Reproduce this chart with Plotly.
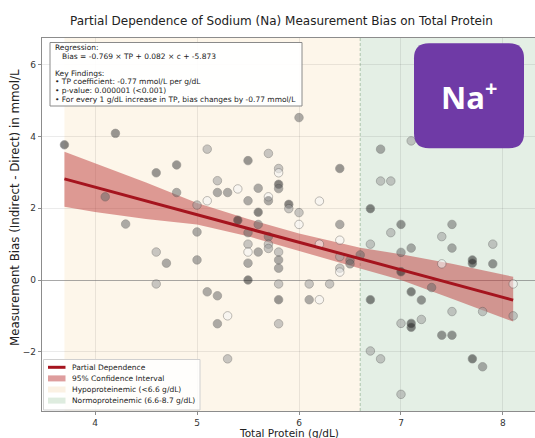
import plotly.graph_objects as go

# ---------------- data ----------------
tp_values = [3.7, 4.2, 4.1, 4.3, 4.6, 4.8, 4.8, 4.6, 4.7, 4.6,
             5.0, 5.0, 5.0, 5.1, 5.1, 5.1, 5.2, 5.2, 5.2, 5.2,
             5.3, 5.3, 5.3, 5.4, 5.4, 5.5, 5.5, 5.5, 5.5, 5.5,
             5.5, 5.5, 5.6, 5.6, 5.6, 5.6, 5.7, 5.7, 5.7, 5.7,
             5.7, 5.7, 5.8, 5.8, 5.8, 5.8, 5.8, 5.8, 5.8, 5.8,
             5.8, 5.8, 5.9, 5.9, 6.0, 6.0, 6.0, 6.1, 6.1, 6.2,
             6.2, 6.2, 6.3, 6.4, 6.4, 6.4, 6.4, 6.4, 6.4, 6.5,
             6.5, 6.6, 6.7, 6.7, 6.7, 6.7, 6.8, 6.8, 6.8, 6.9,
             6.9, 7.0, 7.0, 7.0, 7.0, 7.0, 7.1, 7.1, 7.1, 7.1,
             7.1, 7.2, 7.2, 7.3, 7.4, 7.4, 7.4, 7.5, 7.5, 7.5,
             7.5, 7.7, 7.7, 7.7, 7.8, 7.8, 7.9, 7.9, 8.1, 8.1]
bias_values = [3.77, 4.09, 2.32, 1.56, 2.99, 3.21, 2.44, 0.78, 0.47, -0.11,
               2.09, 1.34, 0.56, 3.65, 2.21, -0.33, 2.77, 2.44, -0.44, -1.22,
               2.44, -1.00, -2.20, 2.54, 1.67, 3.33, 2.21, 1.32, 1.00, 0.78,
               0.47, 0.00, 2.56, 1.89, 1.55, 0.78, 3.53, 2.32, 2.21, 1.21,
               1.00, 0.88, 3.11, 2.99, 2.67, 2.55, 0.78, 0.56, 0.33, -0.11,
               -0.55, -1.22, 2.11, 1.99, 4.53, 1.88, 1.55, -0.11, -0.55, 2.20,
               1.00, -0.55, -0.11, 3.11, 1.55, 1.11, 0.65, 0.33, 0.22, 0.55,
               0.45, 0.70, 1.99, 1.00, -0.55, -1.98, 3.65, 2.76, -2.20, 2.76,
               1.32, 1.55, 0.77, 0.23, -1.21, -3.19, 3.88, 0.89, -0.33, -1.21,
               -1.32, -0.56, -1.10, -0.21, 1.21, 0.45, -1.54, 1.55, 0.89, -0.88,
               -1.54, 0.56, 0.47, -2.20, -0.88, -2.42, 1.00, 0.45, -0.11, -1.00]
# grey level of each point (0 = white, 1 = black)
shade_values = [0.85, 0.72, 0.58, 0.58, 0.72, 0.72, 0.58, 0.38, 0.58, 0.38,
                0.38, 0.58, 0.58, 0.38, 0.04, 0.58, 0.38, 0.58, 0.58, 0.58,
                0.58, 0.04, 0.38, 0.04, 0.85, 0.72, 0.58, 0.58, 0.38, 0.04,
                0.58, 0.85, 0.58, 0.85, 0.58, 0.58, 0.38, 0.04, 0.58, 0.58,
                0.38, 0.38, 0.38, 0.04, 0.85, 0.58, 0.38, 0.58, 0.58, 0.38,
                0.72, 0.38, 0.85, 0.38, 0.58, 0.38, 0.04, 0.38, 0.58, 0.04,
                0.04, 0.04, 0.38, 0.72, 0.58, 0.04, 0.38, 0.38, 0.04, 0.58,
                0.58, 0.58, 0.85, 0.38, 0.85, 0.38, 0.58, 0.38, 0.38, 0.38,
                0.38, 0.72, 0.58, 0.85, 0.38, 0.38, 0.38, 0.58, 0.85, 0.85,
                0.85, 0.72, 0.38, 0.58, 0.38, 0.04, 0.72, 0.58, 0.58, 0.38,
                0.72, 0.85, 0.85, 0.85, 0.38, 0.58, 0.38, 0.72, 0.04, 0.38]

pd_tp = [3.7, 4.0, 4.5, 5.0, 5.5, 6.0, 6.6, 7.0, 7.5, 8.1]
pd_bias = [2.82, 2.59, 2.21, 1.82, 1.44, 1.05, 0.60, 0.29, -0.10, -0.56]
ci_upper = [3.58, 3.26, 2.72, 2.15, 1.70, 1.30, 0.90, 0.72, 0.45, 0.09]
ci_lower = [2.04, 1.90, 1.70, 1.55, 1.22, 0.82, 0.32, 0.00, -0.52, -1.16]

x_ticks = [4, 5, 6, 7, 8]
y_ticks = [-2, 0, 2, 4, 6]
HYPO_CUT = 6.6
NORMO_MAX = 8.7

title_text = "Partial Dependence of Sodium (Na) Measurement Bias on Total Protein"
x_title = "Total Protein (g/dL)"
y_title = "Measurement Bias (Indirect - Direct) in mmol/L"
box_lines = [
    "Regression:",
    "Bias = -0.769 × TP + 0.082 × c + -5.873",
    "Key Findings:",
    "• TP coefficient: -0.77 mmol/L per g/dL",
    "• p-value: 0.000001 (<0.001)",
    "• For every 1 g/dL increase in TP, bias changes by -0.77 mmol/L",
]
legend_labels = ["Partial Dependence", "95% Confidence Interval",
                 "Hypoproteinemic (<6.6 g/dL)", "Normoproteinemic (6.6-8.7 g/dL)"]

# ---------------- layout geometry ----------------
W, H = 535, 438
ML, MR, MT, MB = 42, 0, 38, 27
PW, PH = W - ML - MR, H - MT - MB
FONT = "DejaVu Sans"

LINE_COLOR = "#a5141e"
CI_FILL = "rgba(190,60,60,0.5)"
HYPO_FILL = "#fdf6ea"
NORMO_FILL = "#e4efe5"


def px_x(px):
    return (px - ML) / PW


def px_y(py):
    return (H - MB - py) / PH


fig = go.Figure()

fig.add_trace(go.Scatter(
    x=pd_tp + pd_tp[::-1], y=ci_upper + ci_lower[::-1],
    fill="toself", fillcolor=CI_FILL, line=dict(width=0),
    mode="lines", hoverinfo="skip", showlegend=False))

fig.add_trace(go.Scatter(
    x=tp_values, y=bias_values, mode="markers", showlegend=False,
    marker=dict(size=8.5, color=shade_values, cmin=0, cmax=1,
                colorscale=[[0, "#ffffff"], [1, "#000000"]],
                opacity=0.55, line=dict(width=0.8, color="rgba(70,70,70,0.8)"))))

fig.add_trace(go.Scatter(
    x=pd_tp, y=pd_bias, mode="lines", showlegend=False,
    line=dict(color=LINE_COLOR, width=3)))

shapes = []
# background regions
shapes.append(dict(type="rect", xref="x", yref="paper", x0=min(tp_values), x1=HYPO_CUT,
                   y0=0, y1=1, fillcolor=HYPO_FILL, line=dict(width=0), layer="below"))
shapes.append(dict(type="rect", xref="x", yref="paper", x0=HYPO_CUT, x1=NORMO_MAX,
                   y0=0, y1=1, fillcolor=NORMO_FILL, line=dict(width=0), layer="below"))
shapes.append(dict(type="line", xref="x", yref="paper", x0=HYPO_CUT, x1=HYPO_CUT,
                   y0=0, y1=1, line=dict(color="rgba(130,165,130,0.6)", width=1, dash="3px,2px"),
                   layer="between"))

# regression info box
shapes.append(dict(type="rect", xref="paper", yref="paper",
                   x0=px_x(50), x1=px_x(302), y0=px_y(106), y1=px_y(42.5),
                   fillcolor="rgba(255,255,255,0.92)", line=dict(color="#8a8a8a", width=1),
                   layer="above"))

# legend box
shapes.append(dict(type="rect", xref="paper", yref="paper",
                   x0=px_x(43.5), x1=px_x(200), y0=px_y(410), y1=px_y(359.5),
                   fillcolor="rgba(255,255,255,0.85)", line=dict(color="#d0d0d0", width=1),
                   layer="above"))
leg_y = [367.3, 378.4, 389.5, 400.6]
shapes.append(dict(type="line", xref="paper", yref="paper",
                   x0=px_x(48), x1=px_x(65.5), y0=px_y(leg_y[0]), y1=px_y(leg_y[0]),
                   line=dict(color=LINE_COLOR, width=3), layer="above"))
for yy, fc in zip(leg_y[1:], [CI_FILL, "#fbf1e3", "#deecdf"]):
    shapes.append(dict(type="rect", xref="paper", yref="paper",
                       x0=px_x(48), x1=px_x(65.5), y0=px_y(yy + 3), y1=px_y(yy - 3),
                       fillcolor=fc, line=dict(width=0), layer="above"))

# Na+ badge (rounded rectangle, pixel-sized around an anchor)
bw, bh, r = 55, 52.5, 15
badge_path = (f"M {-bw + r},{-bh} L {bw - r},{-bh} Q {bw},{-bh} {bw},{-bh + r} "
              f"L {bw},{bh - r} Q {bw},{bh} {bw - r},{bh} L {-bw + r},{bh} "
              f"Q {-bw},{bh} {-bw},{bh - r} L {-bw},{-bh + r} Q {-bw},{-bh} {-bw + r},{-bh} Z")
shapes.append(dict(type="path", xref="paper", yref="paper",
                   xsizemode="pixel", ysizemode="pixel",
                   xanchor=px_x(469), yanchor=px_y(95.8), path=badge_path,
                   fillcolor="#6f3aa6", line=dict(width=0), layer="above"))

annotations = []
box_y = [47.5, 56.5, 73.5, 82, 90.5, 99]
box_x = [53, 60, 53, 53, 53, 53]
for txt, xx, yy in zip(box_lines, box_x, box_y):
    annotations.append(dict(text=txt, xref="paper", yref="paper", x=px_x(xx), y=px_y(yy),
                            xanchor="left", yanchor="middle", showarrow=False,
                            font=dict(family=FONT, size=7.5, color="#222")))
for txt, yy in zip(legend_labels, leg_y):
    annotations.append(dict(text=txt, xref="paper", yref="paper", x=px_x(70), y=px_y(yy),
                            xanchor="left", yanchor="middle", showarrow=False,
                            font=dict(family=FONT, size=7.5, color="#222")))
annotations.append(dict(text="<b>Na<sup>+</sup></b>", xref="paper", yref="paper",
                        x=px_x(469), y=px_y(95), xanchor="center", yanchor="middle",
                        showarrow=False, font=dict(family="Open Sans", size=31, color="white")))
annotations.append(dict(text=title_text, xref="paper", yref="paper",
                        x=px_x(281.5), y=px_y(21), xanchor="center", yanchor="middle",
                        showarrow=False, font=dict(family=FONT, size=12, color="#222")))
annotations.append(dict(text=y_title, xref="paper", yref="paper", textangle=-90,
                        x=px_x(15), y=px_y(208), xanchor="center", yanchor="middle",
                        showarrow=False, font=dict(family=FONT, size=11.8, color="#222")))
annotations.append(dict(text=x_title, xref="paper", yref="paper",
                        x=px_x(289), y=px_y(432.5), xanchor="center", yanchor="middle",
                        showarrow=False, font=dict(family=FONT, size=10.5, color="#222")))

fig.update_layout(
    width=W, height=H,
    margin=dict(l=ML, r=MR, t=MT, b=MB, autoexpand=False),
    paper_bgcolor="white", plot_bgcolor="white",
    font=dict(family=FONT, color="#333"),
    shapes=shapes, annotations=annotations,
    xaxis=dict(range=[3.48, 8.314], tickvals=x_ticks, showgrid=True,
               gridcolor="rgba(0,0,0,0.08)", zeroline=False,
               showline=True, linecolor="#8c8c8c", linewidth=1.2, mirror=True,
               ticks="outside", ticklen=3, tickcolor="#8c8c8c",
               tickfont=dict(size=9, color="#333"), automargin=False),
    yaxis=dict(range=[-3.654, 6.75], tickvals=y_ticks, showgrid=True,
               gridcolor="rgba(0,0,0,0.08)", zeroline=True,
               zerolinecolor="rgba(110,110,110,0.6)", zerolinewidth=1,
               showline=True, linecolor="#8c8c8c", linewidth=1.2, mirror=True,
               ticks="outside", ticklen=3, tickcolor="#8c8c8c",
               tickfont=dict(size=9, color="#333"), tickformat="d",
               automargin=False),
)

fig.write_html("out.html", config={"displayModeBar": False},
               post_script="document.body.style.margin='0';")
